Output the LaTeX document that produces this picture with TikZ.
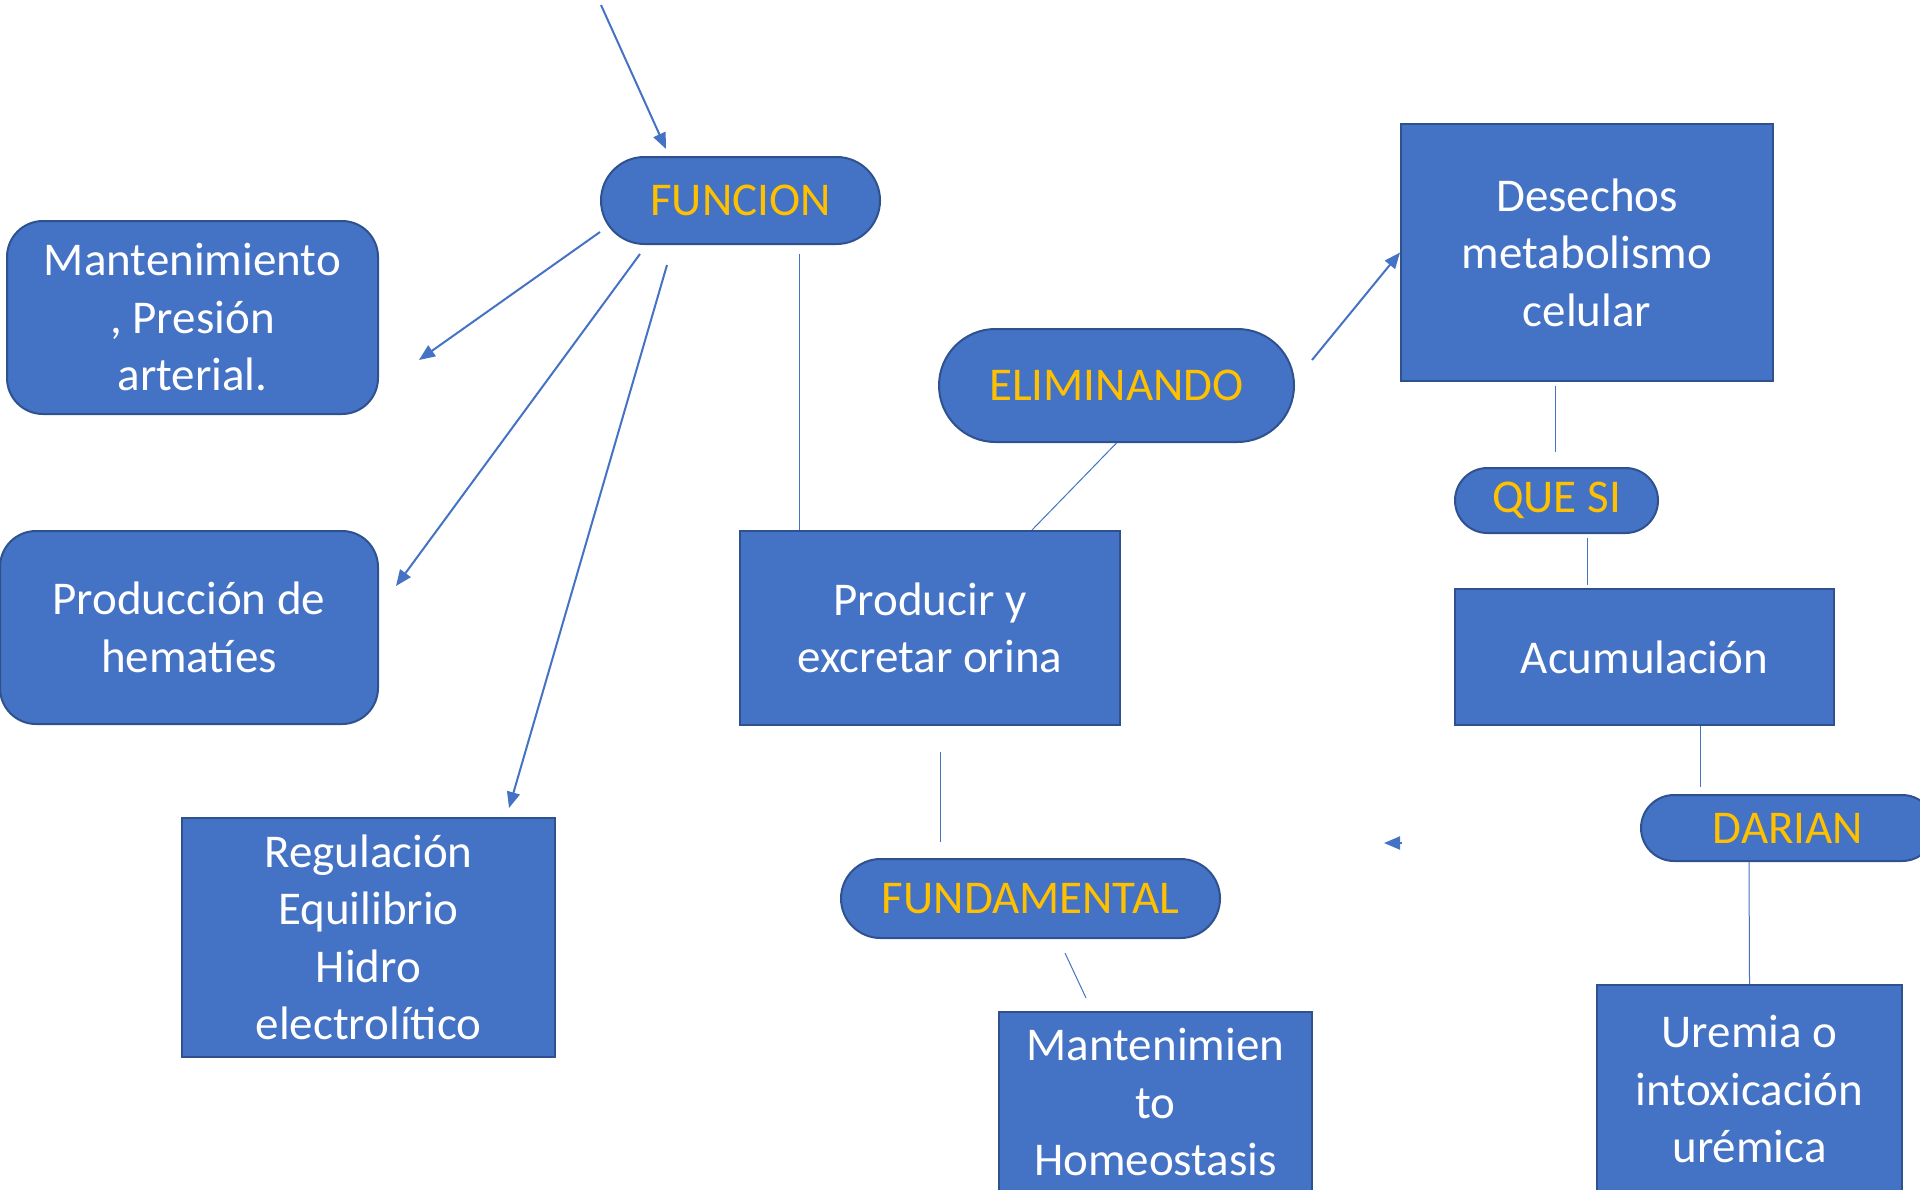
\documentclass[tikz,border=0pt]{standalone}
\usepackage{fontspec}
\setmainfont{Carlito}
\usetikzlibrary{arrows.meta,shapes.misc}
\definecolor{azul}{HTML}{4472C4}
\definecolor{azulborde}{HTML}{2F528F}
\definecolor{naranja}{HTML}{FFC000}

\begin{document}
\begin{tikzpicture}[x=0.5pt,y=-0.5pt,
    caja/.style={rectangle,draw=azulborde,fill=azul,line width=1pt,text=white,
      align=center,inner sep=0pt,font=\fontsize{23.5}{28.75}\selectfont},
    redonda/.style={caja,rounded corners=18pt},
    pill/.style={caja,rounded rectangle,text=naranja},
    flecha/.style={azul,line width=1pt,-{Triangle[length=8pt,width=6.5pt]}},
    linea/.style={azul,line width=0.5pt}]
  \clip (0,0) rectangle (1920,1189);

  % cajas
  \node[pill,minimum width=139.5pt,minimum height=43.5pt] (funcion) at (740.5,200.5) {FUNCION};
  \node[redonda,minimum width=185.5pt,minimum height=96.5pt] (mant) at (192.5,317.5) {Mantenimiento\\, Presión\\arterial.};
  \node[redonda,minimum width=189pt,minimum height=96.5pt] (prod) at (189,627.5) {Producción de\\hematíes};
  \node[caja,minimum width=186.5pt,minimum height=119.5pt] (reg) at (368.5,937.5) {Regulación\\Equilibrio\\Hidro\\electrolítico};
  \node[caja,minimum width=190pt,minimum height=97pt] (producir) at (930,628) {Producir y\\excretar orina};
  \node[pill,minimum width=177.5pt,minimum height=56.5pt] (elim) at (1116.5,385.5) {ELIMINANDO};
  \node[caja,minimum width=186pt,minimum height=128.5pt] (desechos) at (1587,252.5) {Desechos\\metabolismo\\celular};
  \node[pill,minimum width=101.5pt,minimum height=32.5pt] (quesi) at (1556.5,500.5) {QUE SI};
  \node[caja,minimum width=189.5pt,minimum height=68pt] (acum) at (1644.5,657) {Acumulación};
  \node[pill,minimum width=147pt,minimum height=33pt] (darian) at (1788,828) {DARIAN};
  \node[pill,minimum width=189.5pt,minimum height=39.5pt] (fundam) at (1030.5,898.5) {FUNDAMENTAL};
  \node[caja,minimum width=156.5pt,minimum height=90pt] (homeo) at (1155.5,1102) {Mantenimien\\to\\Homeostasis};
  \node[caja,minimum width=152.5pt,minimum height=104pt] (uremia) at (1749.5,1089) {Uremia o\\intoxicación\\urémica};

  % flechas
  \coordinate (arriba) at (601,5);
  \coordinate (sueltaA) at (1402,843);
  \coordinate (sueltaB) at (1384,843);
  \draw[flecha] (arriba) -- ([shift={(-74.5,-7)}]funcion.north);
  \draw[flecha] ([shift={(0,31.5)}]funcion.west) -- ([shift={(40,42.5)}]mant.east);
  \draw[flecha] ([shift={(-100.5,9)}]funcion.south) -- ([shift={(17,-41.5)}]prod.east);
  \draw[flecha] ([shift={(-73.5,20)}]funcion.south) -- ([shift={(140.5,-9)}]reg.north);
  \draw[flecha] ([shift={(17,-25.5)}]elim.east) -- (desechos.west);
  \draw[flecha] (sueltaA) -- (sueltaB);

  % lineas
  \draw[linea] ([shift={(58.5,9)}]funcion.south) -- ([shift={(-131,0)}]producir.north);
  \draw[linea] (elim.south) -- ([shift={(102,0)}]producir.north);
  \draw[linea] ([shift={(-32,4)}]desechos.south) -- ([shift={(-1.5,-15)}]quesi.north);
  \draw[linea] ([shift={(30.5,4)}]quesi.south) -- ([shift={(-57.5,-3)}]acum.north);
  \draw[linea] ([shift={(55.5,0)}]acum.south) -- ([shift={(-88,-7)}]darian.north);
  \draw[linea] ([shift={(-39,0)}]darian.south) -- (uremia.north);
  \draw[linea] ([shift={(10,26)}]producir.south) -- ([shift={(-90.5,-16)}]fundam.north);
  \draw[linea] ([shift={(34.5,14)}]fundam.south) -- ([shift={(-69.5,-13)}]homeo.north);
\end{tikzpicture}
\end{document}
